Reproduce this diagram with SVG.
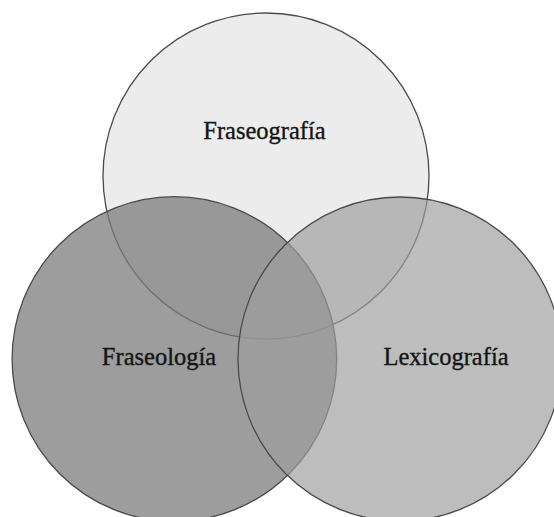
<svg xmlns="http://www.w3.org/2000/svg" width="554" height="517" viewBox="0 0 554 517">
<style>
.c{stroke:#4a4a4a;stroke-width:1.3}
.t{font-family:"Liberation Serif","Times New Roman",serif;font-size:24.5px;fill:#151515;stroke:#151515;stroke-width:0.35;text-anchor:middle}
</style>
<rect width="554" height="517" fill="#ffffff"/>
<g id="fraseografia">
<circle class="c" cx="266" cy="176" r="163" fill="#ececec"/>
</g>
<g id="fraseologia">
<circle class="c" cx="174.4" cy="359" r="162.3" fill="#7b7b7b" fill-opacity="0.74"/>
</g>
<g id="lexicografia">
<circle class="c" cx="400" cy="359" r="162" fill="#9d9d9d" fill-opacity="0.68"/>
</g>
<g id="labels">
<text class="t" x="264.5" y="139">Fraseografía</text>
<text class="t" x="159" y="365">Fraseología</text>
<text class="t" x="446" y="365">Lexicografía</text>
</g>
</svg>
